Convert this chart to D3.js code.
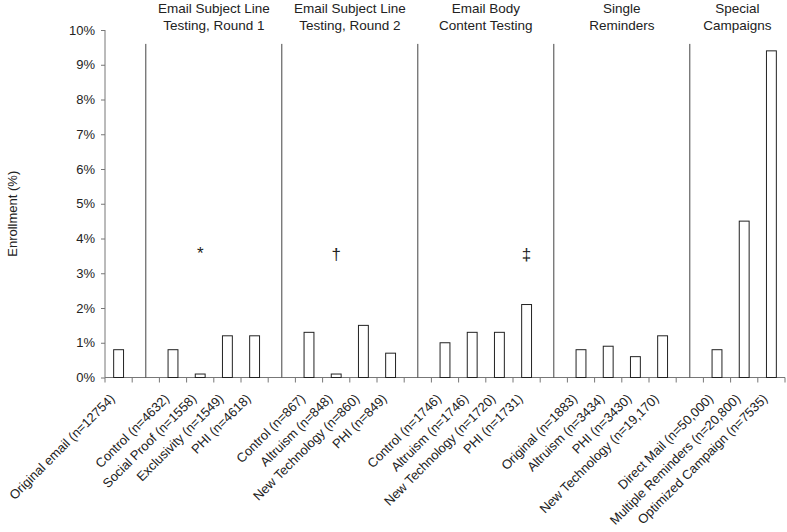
<!DOCTYPE html>
<html>
<head>
<meta charset="utf-8">
<script src="https://cdn.jsdelivr.net/npm/d3@7"></script>
<style>
  body { margin: 0; background: #fff; }
  text { font-family: "Liberation Sans", Arial, sans-serif; fill: #222; }
</style>
</head>
<body>
<div class="chart"></div>
<script>
// one slot per category, "" marks the gap slots that hold the group separators
const labels = [
    "Original email (n=12754)", "",
    "Control (n=4632)", "Social Proof (n=1558)", "Exclusivity (n=1549)", "PHI (n=4618)", "",
    "Control (n=867)", "Altruism (n=848)", "New Technology (n=860)", "PHI (n=849)", "",
    "Control (n=1746)", "Altruism (n=1746)", "New Technology (n=1720)", "PHI (n=1731)", "",
    "Original (n=1883)", "Altruism (n=3434)", "PHI (n=3430)", "New Technology (n=19,170)", "",
    "Direct Mail (n=50,000)", "Multiple Reminders (n=20,800)", "Optimized Campaign (n=7535)"
];
const enrollment = [
    0.8, null,
    0.8, 0.1, 1.2, 1.2, null,
    1.3, 0.1, 1.5, 0.7, null,
    1.0, 1.3, 1.3, 2.1, null,
    0.8, 0.9, 0.6, 1.2, null,
    0.8, 4.5, 9.4
];
const groupTitles = [
    ["Email Subject Line", "Testing, Round 1"],
    ["Email Subject Line", "Testing, Round 2"],
    ["Email Body", "Content Testing"],
    ["Single", "Reminders"],
    ["Special", "Campaigns"]
];
const yTicks = [0, 1, 2, 3, 4, 5, 6, 7, 8, 9, 10];
const markSymbols = ["*", "\u2020", "\u2021"];
const markSlots = [3, 8, 15];
const markLevels = [3.65, 3.55, 3.55];
const separatorTop = 9.6;

const W = 787, H = 532;
const plotLeft = 105, plotRight = 785, plotTop = 30, plotBase = 377.5;

const svg = d3.select(".chart").append("svg")
    .attr("width", W)
    .attr("height", H);

const slots = labels.map((d, i) => i);

const x = d3.scaleBand()
    .domain(slots)
    .range([plotLeft, plotRight])
    .paddingInner(0.6)
    .paddingOuter(0.3);
const step = x.step();
const center = i => x(i) + x.bandwidth() / 2;

const y = d3.scaleLinear()
    .domain([0, 10])
    .range([plotBase, plotTop]);

// y axis
const yAxis = svg.append("g")
    .attr("transform", `translate(${plotLeft}, 0)`)
    .call(d3.axisLeft(y).tickValues(yTicks).tickSize(4).tickPadding(6).tickFormat(d => d + "%"));
yAxis.select(".domain").attr("stroke", "#777").attr("d", `M0,${y(10)}V${plotBase}`);
yAxis.selectAll(".tick line").attr("stroke", "#777");
yAxis.selectAll(".tick text")
    .attr("font-size", 13)
    .attr("font-family", "Liberation Sans, Arial, sans-serif")
    .attr("fill", "#222");

svg.append("text")
    .attr("transform", `translate(17, ${(y(10) + plotBase) / 2 + 10}) rotate(-90)`)
    .attr("text-anchor", "middle")
    .attr("font-size", 13)
    .text("Enrollment (%)");

// x axis: ticks sit on the slot boundaries
const bounds = d3.range(labels.length + 1).map(i => plotLeft + i * step);
svg.append("line")
    .attr("x1", plotLeft).attr("x2", plotRight)
    .attr("y1", plotBase).attr("y2", plotBase)
    .attr("stroke", "#777");
svg.selectAll(".xtick")
    .data(bounds)
    .join("line")
    .attr("x1", d => d).attr("x2", d => d)
    .attr("y1", plotBase).attr("y2", plotBase + 5)
    .attr("stroke", "#777");

// group separators and titles
const gaps = slots.filter(i => labels[i] === "");
svg.selectAll(".sep")
    .data(gaps)
    .join("line")
    .attr("x1", d => center(d)).attr("x2", d => center(d))
    .attr("y1", y(separatorTop)).attr("y2", plotBase)
    .attr("stroke", "#444");

groupTitles.forEach((lines, g) => {
    const x0 = center(gaps[g]);
    const x1 = g + 1 < gaps.length ? center(gaps[g + 1]) : plotRight;
    const t = svg.append("text")
        .attr("text-anchor", "middle")
        .attr("font-size", 13.5);
    lines.forEach((l, k) => {
        t.append("tspan")
            .attr("x", (x0 + x1) / 2)
            .attr("y", 13 + k * 16.5)
            .text(l);
    });
});

// bars
const barData = slots.filter(i => enrollment[i] !== null);
svg.selectAll(".bar")
    .data(barData)
    .join("rect")
    .attr("x", d => x(d) + 0.5)
    .attr("y", d => y(enrollment[d]))
    .attr("width", x.bandwidth() - 1)
    .attr("height", d => plotBase - y(enrollment[d]))
    .attr("fill", "#fff")
    .attr("stroke", "#222");

// significance marks
svg.selectAll(".mark")
    .data(markSymbols)
    .join("text")
    .attr("x", (d, i) => center(markSlots[i]))
    .attr("y", (d, i) => y(markLevels[i]) + (i === 0 ? 8 : 6))
    .attr("text-anchor", "middle")
    .attr("font-size", 17)
    .text(d => d);

// category labels
svg.selectAll(".xlabel")
    .data(barData)
    .join("text")
    .attr("transform", d => `translate(${center(d) - 3}, ${plotBase + 22}) rotate(-45)`)
    .attr("text-anchor", "end")
    .attr("font-size", 13)
    .text(d => labels[d]);
</script>
</body>
</html>
